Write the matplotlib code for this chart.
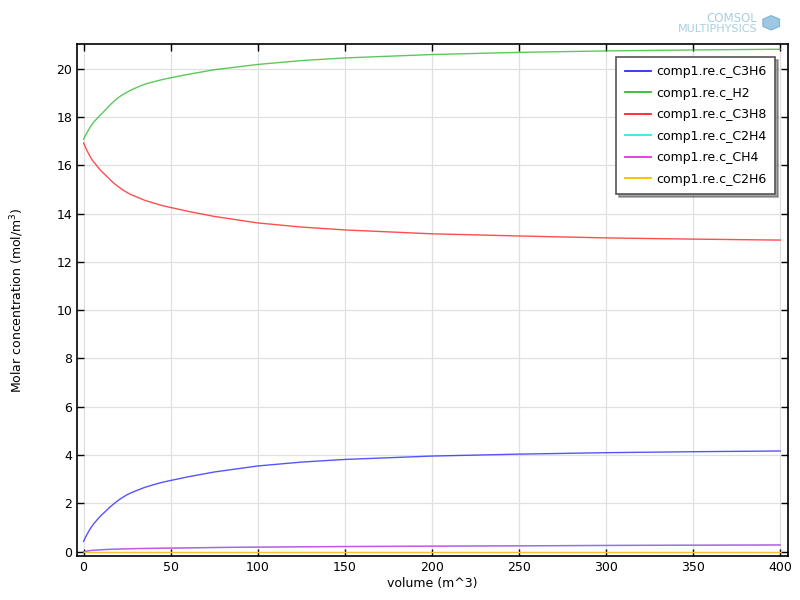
import matplotlib
matplotlib.use("Agg")
import matplotlib.pyplot as plt
from matplotlib.patches import RegularPolygon

# volume (m^3) sample points
volume = [0, 1, 2, 3, 4, 5, 6, 8, 10, 12, 14, 16, 18, 20, 22, 25, 27, 30, 35, 40,
          45, 50, 60, 75, 100, 125, 150, 200, 250, 300, 350, 400]

c_C3H6 = [0.43, 0.58, 0.72, 0.85, 0.97, 1.07, 1.17, 1.34, 1.50, 1.63, 1.77, 1.90,
          2.02, 2.13, 2.23, 2.36, 2.43, 2.52, 2.66, 2.77, 2.87, 2.95, 3.10, 3.30,
          3.55, 3.71, 3.82, 3.96, 4.04, 4.10, 4.14, 4.17]
c_H2 = [17.07, 17.22, 17.35, 17.48, 17.60, 17.70, 17.80, 17.95, 18.10, 18.25,
        18.40, 18.55, 18.68, 18.80, 18.90, 19.02, 19.10, 19.20, 19.35, 19.45,
        19.54, 19.62, 19.76, 19.95, 20.17, 20.33, 20.44, 20.58, 20.67, 20.73,
        20.77, 20.80]
c_C3H8 = [16.92, 16.76, 16.60, 16.46, 16.33, 16.22, 16.12, 15.94, 15.77, 15.63,
          15.49, 15.35, 15.22, 15.11, 15.00, 14.87, 14.79, 14.70, 14.55, 14.44,
          14.33, 14.25, 14.09, 13.88, 13.61, 13.44, 13.32, 13.16, 13.07, 12.99,
          12.94, 12.90]
c_CH4 = [0.0, 0.015, 0.03, 0.04, 0.05, 0.055, 0.06, 0.07, 0.08, 0.09, 0.095, 0.10,
         0.105, 0.11, 0.115, 0.12, 0.125, 0.13, 0.135, 0.14, 0.145, 0.15, 0.16,
         0.175, 0.19, 0.205, 0.215, 0.23, 0.245, 0.26, 0.27, 0.28]
c_C2H4 = c_CH4  # lies under the CH4 curve in the reference
c_C2H6 = [0.0, 0.0, 0.0, 0.0, 0.0, 0.0, 0.0, 0.0, 0.0, 0.0, 0.0, 0.0, 0.0, 0.0,
          0.0, 0.0, 0.0, 0.0, 0.0, 0.0, 0.0, 0.0, 0.0, 0.0, 0.0, 0.0, 0.0, 0.0,
          0.0, 0.0, 0.0, 0.0]

series = [
    ("comp1.re.c_C3H6", c_C3H6, "#2b2bff"),
    ("comp1.re.c_H2", c_H2, "#33bb33"),
    ("comp1.re.c_C3H8", c_C3H8, "#ff2222"),
    ("comp1.re.c_C2H4", c_C2H4, "#33e8e0"),
    ("comp1.re.c_CH4", c_CH4, "#e62ee6"),
    ("comp1.re.c_C2H6", c_C2H6, "#ffbb00"),
]

fig = plt.figure(figsize=(8, 6), dpi=100, facecolor="white")
ax = fig.add_axes([0.0966, 0.0728, 0.888, 0.854])

for label, vals, color in series:
    ax.plot(volume, vals, color=color, lw=1.0, alpha=0.8, label=label)

ax.set_xlim(-3.6, 404.3)
ax.set_ylim(-0.19, 21.02)
ax.set_xticks(range(0, 401, 50))
ax.set_yticks(range(0, 21, 2))
ax.grid(True, color="#e0e0e0", lw=0.9)
ax.set_axisbelow(True)
ax.tick_params(direction="in", top=True, right=True, length=5, width=1,
               labelsize=9, colors="black")
for sp in ax.spines.values():
    sp.set_linewidth(1.2)

ax.set_xlabel("volume (m^3)", fontsize=9, labelpad=2)
ax.set_ylabel("Molar concentration (mol/m$^3$)", fontsize=9, labelpad=22)

leg = ax.legend(loc="upper right", bbox_to_anchor=(0.982, 0.974), fontsize=9,
                borderaxespad=0, frameon=True, fancybox=False, shadow=True,
                handlelength=2.1, labelspacing=0.68, borderpad=0.65,
                handletextpad=0.45)
leg.get_frame().set_edgecolor("#555555")
leg.get_frame().set_linewidth(1.2)
for h in leg.get_lines():
    h.set_alpha(1.0)
    h.set_linewidth(1.3)

# COMSOL logo
fig.text(0.947, 0.969, "COMSOL", ha="right", va="center", fontsize=8.5,
         color="#a9cfe3")
fig.text(0.947, 0.952, "MULTIPHYSICS", ha="right", va="center", fontsize=8,
         color="#a9cfe3")
fig.patches.append(RegularPolygon((0.964, 0.962), 6, radius=0.012,
                                  transform=fig.transFigure,
                                  facecolor="#9cc8e3", edgecolor="#7fb3d5",
                                  lw=0.8))

fig.savefig("out.png", dpi=100, facecolor="white")
